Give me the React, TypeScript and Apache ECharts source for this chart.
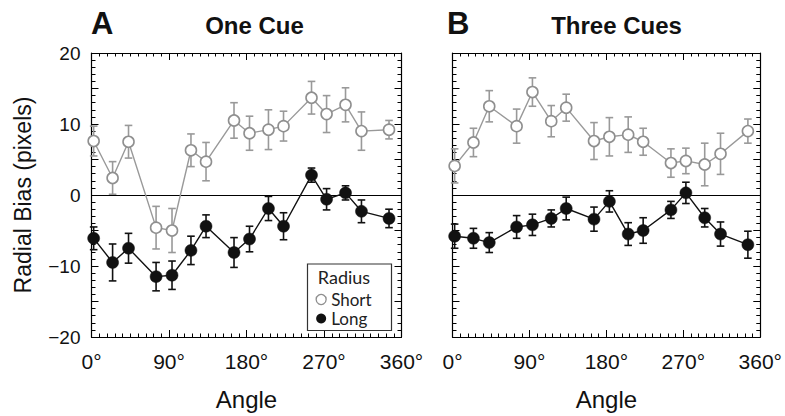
import React, { useEffect, useRef } from "react";
import * as echarts from "echarts";

const angles = [2.5, 24.5, 43, 75, 93.5, 115.5, 133, 165.5, 183.5, 205.5, 223, 255.5, 273, 295, 313.5, 345.5];

const shortOne = [7.6, 2.4, 7.5, -4.6, -5.0, 6.3, 4.7, 10.5, 8.7, 9.2, 9.7, 13.7, 11.4, 12.7, 9.0, 9.2];
const shortOneErr = [2.1, 2.3, 2.3, 3.0, 3.1, 2.3, 2.7, 2.5, 2.4, 2.8, 2.1, 2.3, 2.6, 2.4, 2.7, 1.3];
const longOne = [-6.1, -9.5, -7.5, -11.5, -11.3, -7.8, -4.4, -8.1, -6.2, -1.9, -4.4, 2.8, -0.6, 0.3, -2.3, -3.3];
const longOneErr = [1.6, 2.6, 2.1, 2.0, 2.0, 2.0, 1.6, 2.1, 1.8, 1.7, 1.9, 1.0, 1.5, 1.0, 1.6, 1.3];

const shortThree = [4.1, 7.4, 12.5, 9.7, 14.5, 10.4, 12.3, 7.6, 8.2, 8.5, 7.5, 4.5, 4.8, 4.3, 5.8, 9.0];
const shortThreeErr = [2.4, 2.0, 2.2, 2.4, 2.0, 2.2, 1.9, 2.6, 2.7, 2.5, 1.9, 2.0, 1.8, 3.0, 2.9, 1.7];
const longThree = [-5.8, -6.1, -6.7, -4.5, -4.2, -3.3, -1.9, -3.4, -0.9, -5.5, -5.0, -2.1, 0.3, -3.2, -5.5, -7.0];
const longThreeErr = [1.7, 1.4, 1.4, 1.6, 1.5, 1.2, 1.6, 1.7, 1.5, 1.6, 1.8, 1.2, 1.5, 1.3, 1.7, 1.9];

const xTicks = [0, 90, 180, 270, 360];
const yLabels = [-20, -10, 0, 10, 20];

const FONT = "'Liberation Sans', Arial, Helvetica, sans-serif";
const GRAY = "#999999";
const BLACK = "#111111";

const pts = (vals: number[]) => angles.map((a, i) => [a, vals[i]]);
const errs = (vals: number[], e: number[]) => angles.map((a, i) => [a, vals[i] - e[i], vals[i] + e[i]]);

function errorRenderer(color: string) {
  return (params: any, api: any) => {
    const x = api.value(0);
    const lo = api.coord([x, api.value(1)]);
    const hi = api.coord([x, api.value(2)]);
    const w = 3.8;
    const style = { stroke: color, lineWidth: 1.6 };
    return {
      type: "group",
      children: [
        { type: "line", shape: { x1: lo[0], y1: lo[1], x2: hi[0], y2: hi[1] }, style },
        { type: "line", shape: { x1: lo[0] - w, y1: lo[1], x2: lo[0] + w, y2: lo[1] }, style },
        { type: "line", shape: { x1: hi[0] - w, y1: hi[1], x2: hi[0] + w, y2: hi[1] }, style },
      ],
    };
  };
}

function xAxes(grid: number) {
  const base = {
    gridIndex: grid,
    type: "value",
    min: 0,
    max: 360,
    interval: 90,
    splitLine: { show: false },
    axisLine: { show: true, onZero: false, lineStyle: { color: "#000", width: 1.2 } },
    axisTick: { show: true, inside: true, length: 7, lineStyle: { color: "#000", width: 1 } },
    minorTick: { show: true, splitNumber: 10, length: 3.5, lineStyle: { color: "#000", width: 1 } },
  };
  return [
    {
      ...base,
      position: "bottom",
      axisLabel: {
        show: true,
        margin: 14,
        fontSize: 21,
        fontFamily: FONT,
        color: "#111",
        formatter: (v: number) => (xTicks.includes(v) ? v + "°" : ""),
      },
      name: "Angle",
      nameLocation: "middle",
      nameGap: 50,
      nameTextStyle: { fontSize: 24, fontFamily: FONT, color: "#111" },
    },
    { ...base, position: "top", axisLabel: { show: false } },
  ];
}

function yAxes(grid: number, labels: boolean) {
  const base = {
    gridIndex: grid,
    type: "value",
    min: -20,
    max: 20,
    interval: 5,
    splitLine: { show: false },
    axisLine: { show: true, onZero: false, lineStyle: { color: "#000", width: 1.2 } },
    axisTick: { show: true, inside: true, length: 7, lineStyle: { color: "#000", width: 1 } },
    minorTick: { show: true, splitNumber: 5, length: 4, lineStyle: { color: "#000", width: 1 } },
  };
  const left: any = {
    ...base,
    position: "left",
    axisLabel: {
      show: labels,
      margin: 11,
      fontSize: 19,
      fontFamily: FONT,
      color: "#111",
      formatter: (v: number) => (yLabels.includes(v) ? (v < 0 ? "\u2212" + Math.abs(v) : String(v)) : ""),
    },
  };
  if (labels) {
    left.name = "Radial Bias (pixels)";
    left.nameLocation = "middle";
    left.nameGap = 57;
    left.nameTextStyle = { fontSize: 23, fontFamily: FONT, color: "#111" };
  }
  return [left, { ...base, position: "right", axisLabel: { show: false } }];
}

function panelSeries(xi: number, yi: number, sVals: number[], sErr: number[], lVals: number[], lErr: number[]) {
  return [
    {
      type: "custom",
      name: "ShortErr",
      xAxisIndex: xi,
      yAxisIndex: yi,
      renderItem: errorRenderer(GRAY),
      encode: { x: 0, y: [1, 2] },
      data: errs(sVals, sErr),
      z: 1,
      silent: true,
    },
    {
      type: "custom",
      name: "LongErr",
      xAxisIndex: xi,
      yAxisIndex: yi,
      renderItem: errorRenderer(BLACK),
      encode: { x: 0, y: [1, 2] },
      data: errs(lVals, lErr),
      z: 1,
      silent: true,
    },
    {
      type: "line",
      name: "Short",
      xAxisIndex: xi,
      yAxisIndex: yi,
      data: pts(sVals),
      symbol: "circle",
      symbolSize: 11,
      showAllSymbol: true,
      lineStyle: { color: GRAY, width: 1.4 },
      itemStyle: { color: "#ffffff", borderColor: "#8f8f8f", borderWidth: 1.6 },
      z: 3,
    },
    {
      type: "line",
      name: "Long",
      xAxisIndex: xi,
      yAxisIndex: yi,
      data: pts(lVals),
      symbol: "circle",
      symbolSize: 12,
      showAllSymbol: true,
      lineStyle: { color: BLACK, width: 1.4 },
      itemStyle: { color: BLACK, borderColor: BLACK, borderWidth: 0.5 },
      z: 4,
      markLine: {
        silent: true,
        symbol: "none",
        label: { show: false },
        lineStyle: { color: "#000", width: 1.2, type: "solid" },
        data: [{ yAxis: 0 }],
        z: 2,
      },
    },
  ];
}

export default function App() {
  const ref = useRef<HTMLDivElement>(null);
  useEffect(() => {
    if (!ref.current) return;
    const chart = echarts.init(ref.current, null, { renderer: "svg" });
    const option: any = {
      animation: false,
      backgroundColor: "#ffffff",
      textStyle: { fontFamily: FONT },
      grid: [
        { left: 91.5, top: 53, width: 310, height: 297 },
        { left: 452.5, top: 53, width: 310, height: 297 },
      ],
      xAxis: [...xAxes(0), ...xAxes(1)],
      yAxis: [...yAxes(0, true), ...yAxes(1, false)],
      legend: {
        orient: "vertical",
        left: 315.5,
        top: 290,
        padding: 0,
        itemGap: 0,
        itemWidth: 10,
        itemHeight: 10,
        icon: "circle",
        selectedMode: false,
        textStyle: { fontSize: 17, fontFamily: "Lato, 'Liberation Sans', sans-serif", color: "#222", lineHeight: 19 },
        data: [
          { name: "Short", itemStyle: { color: "#ffffff", borderColor: "#8f8f8f", borderWidth: 1.3 } },
          { name: "Long", itemStyle: { color: BLACK, borderColor: BLACK, borderWidth: 0 } },
        ],
        z: 10,
      },
      graphic: [
        {
          type: "rect",
          z: 5,
          shape: { x: 307.5, y: 264, width: 84, height: 66.5 },
          style: { fill: "#ffffff", stroke: "#333", lineWidth: 1.2 },
        },
        {
          type: "text",
          z: 6,
          x: 344,
          y: 277,
          style: { text: "Radius", fontSize: 18, fontFamily: "Lato, 'Liberation Sans', sans-serif", fill: "#222", textAlign: "center", textVerticalAlign: "middle" },
        },
        {
          type: "text",
          x: 91,
          y: 23.5,
          style: { text: "A", fontSize: 31, fontWeight: "bold", fontFamily: FONT, fill: "#111", textAlign: "left", textVerticalAlign: "middle" },
        },
        {
          type: "text",
          x: 254.5,
          y: 25,
          style: { text: "One Cue", fontSize: 24, fontWeight: "bold", fontFamily: FONT, fill: "#111", textAlign: "center", textVerticalAlign: "middle" },
        },
        {
          type: "text",
          x: 447,
          y: 23.5,
          style: { text: "B", fontSize: 31, fontWeight: "bold", fontFamily: FONT, fill: "#111", textAlign: "left", textVerticalAlign: "middle" },
        },
        {
          type: "text",
          x: 616.5,
          y: 25,
          style: { text: "Three Cues", fontSize: 24, fontWeight: "bold", fontFamily: FONT, fill: "#111", textAlign: "center", textVerticalAlign: "middle" },
        },
      ],
      series: [
        ...panelSeries(0, 0, shortOne, shortOneErr, longOne, longOneErr),
        ...panelSeries(2, 2, shortThree, shortThreeErr, longThree, longThreeErr),
      ],
    };
    chart.setOption(option);
    return () => chart.dispose();
  }, []);
  return <div ref={ref} style={{ position: "fixed", left: 0, top: 0, width: 785, height: 416 }} />;
}
